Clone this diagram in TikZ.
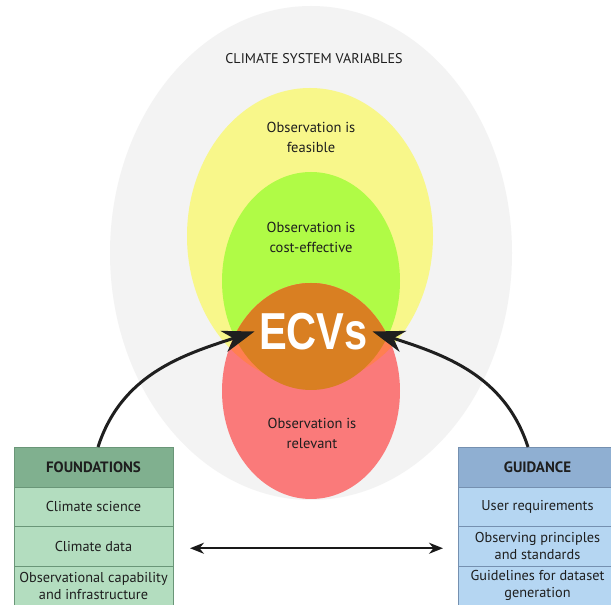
\documentclass[tikz,border=0pt]{standalone}
\usepackage{fontspec}
\setmainfont{PT Sans}
\newfontfamily\ecvfont{Liberation Sans}
\usetikzlibrary{arrows.meta,positioning}

\definecolor{varsgray}{HTML}{F3F3F3}
\definecolor{feasyellow}{HTML}{F8F78A}
\definecolor{costgreen}{HTML}{B0FB46}
\definecolor{relred}{HTML}{FA7A7A}
\definecolor{relcoral}{HTML}{FF7F50}
\definecolor{ecvorange}{HTML}{D97F22}
\definecolor{txtgray}{HTML}{1E1E1E}
\definecolor{foundhead}{HTML}{80B08F}
\definecolor{foundcell}{HTML}{B3DDBF}
\definecolor{foundline}{HTML}{6A9678}
\definecolor{guidehead}{HTML}{8FAFD2}
\definecolor{guidecell}{HTML}{B5D6F2}
\definecolor{guideline}{HTML}{7590B0}

\tikzset{
  lbl/.style={align=center, text=txtgray, font=\fontsize{14.5}{20}\selectfont},
  boxrow/.style={draw, outer sep=0pt, line width=0.8pt, minimum width=159pt,
    minimum height=39.5pt, inner sep=1pt, align=center, text=txtgray,
    font=\fontsize{14.3}{17}\selectfont},
  foundhdr/.style={boxrow, fill=foundhead, draw=foundline, minimum height=40pt,
    font=\fontsize{15}{17}\selectfont\bfseries},
  foundrow/.style={boxrow, fill=foundcell, draw=foundline},
  guidehdr/.style={boxrow, fill=guidehead, draw=guideline, minimum height=40pt,
    font=\fontsize{15}{17}\selectfont\bfseries},
  guiderow/.style={boxrow, fill=guidecell, draw=guideline},
  bigarrow/.style={line width=3pt, draw=black!88,
    -{Stealth[length=32pt,width=22pt,inset=10pt]}},
  duoarrow/.style={line width=2pt, draw=black!90,
    {Stealth[length=14pt,width=11pt]}-{Stealth[length=14pt,width=11pt]}}
}

\begin{document}
\begin{tikzpicture}[x=1pt,y=1pt]
  \clip (0,0) rectangle (611,605);
  \fill[white] (0,0) rectangle (611,605);

  % the nested sets of variables
  \fill[varsgray] (311,352) ellipse [x radius=201, y radius=247];
  \fill[feasyellow] (310,369) ellipse [x radius=123, y radius=148];
  \fill[costgreen] (311,324) ellipse [x radius=89, y radius=109];
  \fill[relred] (311,214) ellipse [x radius=89, y radius=108];
  \begin{scope}
    \clip (311,214) ellipse [x radius=89, y radius=108];
    \fill[relcoral] (310,369) ellipse [x radius=123, y radius=148];
    \fill[ecvorange] (311,324) ellipse [x radius=89, y radius=109];
  \end{scope}

  \node[lbl, font=\fontsize{14.1}{16}\selectfont] (vars) at (314,546) {CLIMATE SYSTEM VARIABLES};
  \node[lbl] (feas) at (311,468) {Observation is\\feasible};
  \node[lbl] (cost) at (311,368) {Observation is\\cost-effective};
  \node[lbl] (rel) at (312,172) {Observation is\\relevant};
  \node[text=white, inner xsep=4.5pt, inner ysep=0pt, font=\ecvfont\bfseries\fontsize{52}{52}\selectfont]
    (ecv) at (313.5,273.5) {\scalebox{0.8}[1]{ECVs}};

  % the two columns
  \node[foundhdr, anchor=north] (found) at (93.5,158) {FOUNDATIONS};
  \node[foundrow, below=0pt of found] (sci) {Climate science};
  \node[foundrow, below=0pt of sci] (data) {Climate data};
  \node[foundrow, below=0pt of data] (infra) {Observational capability\\and infrastructure};

  \node[guidehdr, anchor=north] (guide) at (537.5,158) {GUIDANCE};
  \node[guiderow, below=0pt of guide] (req) {User requirements};
  \node[guiderow, below=0pt of req] (std) {Observing principles\\and standards};
  \node[guiderow, below=0pt of std] (gen) {Guidelines for dataset\\generation};

  \draw[bigarrow] ([xshift=4.5pt]found.north) to[out=72,in=198] (ecv.west);
  \draw[bigarrow] ([xshift=-9.5pt]guide.north) to[out=108,in=-18] (ecv.east);
  \draw[duoarrow] ([xshift=17pt,yshift=-2pt]data.east) -- ([xshift=-15pt,yshift=-2pt]std.west);
\end{tikzpicture}
\end{document}
